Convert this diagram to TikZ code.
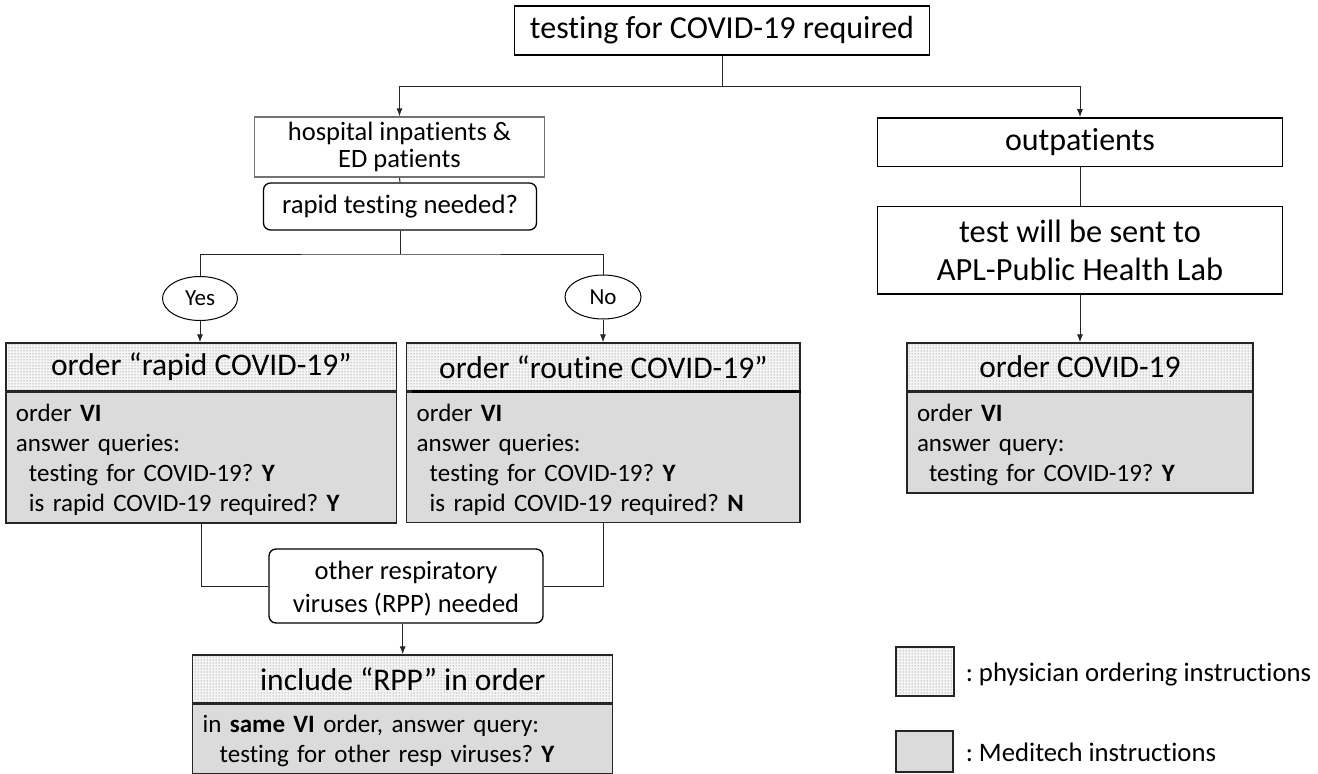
\documentclass[tikz,border=0pt]{standalone}
\usepackage{fontspec}
\setmainfont[RawFeature={-liga;-clig;-dlig}]{Carlito}
\usetikzlibrary{patterns,arrows.meta,shapes.geometric}
\newcommand\fsz[2]{\fontsize{#1pt}{#2pt}\selectfont}
\begin{document}
\frenchspacing
\begin{tikzpicture}[x=1pt,y=-1pt,
  box/.style={draw=black, line width=1.3pt, fill=white, inner sep=0pt, align=center},
  rbox/.style={box, rounded corners=7pt},
  ell/.style={draw=black, line width=1pt, ellipse, inner sep=0pt, font=\fsz{23}{26}},
  hdr/.style={draw=black!85, line width=1.2pt, preaction={fill=black!4}, pattern=dots, pattern color=black!60, inner sep=0pt, font=\fsz{31.5}{36}},
  bodyb/.style={draw=black!85, line width=1.2pt, fill=black!14, inner xsep=10pt, inner ysep=0pt, align=left, font=\fsz{25}{30}},
  conn/.style={draw=black!85, line width=1pt},
  arr/.style={conn, -{Latex[length=8pt,width=6pt]}},
  txt/.style={inner sep=0pt, font=\fsz{26.7}{30}}
]
\useasboundingbox[fill=white] (0,0) rectangle (1318,774);

% top
\node[box, minimum width=415pt, minimum height=49pt, font=\fsz{32}{38}] (top) at (722,30.5) {testing for COVID-19 required};
\coordinate (j0) at (722,86);

% left branch
\node[box, draw=black!55, minimum width=290pt, minimum height=60pt, font=\fsz{26.5}{27}] (hosp) at (399.5,147) {hospital inpatients \&\\ED patients};
\node[rbox, minimum width=273pt, minimum height=47pt, font=\fsz{26.7}{30}] (rapid) at (400,206.5) {rapid testing needed?};
\coordinate (j1) at (400,254);
\node[ell, minimum width=75pt, minimum height=44pt] (yes) at (200,298.5) {Yes};
\node[ell, minimum width=76pt, minimum height=44pt] (no) at (603,297) {No};

% rapid order
\node[hdr, minimum width=390.7pt, minimum height=48pt] (rh) at (201.35,367) {order “rapid COVID-19”};
\node[bodyb, text width=370.7pt, minimum height=130.7pt, anchor=north] (rb) at (rh.south) {\rule{0pt}{22pt}order \textbf{VI}\\answer queries:\\\hspace*{13pt}testing for COVID-19? \textbf{Y}\\\hspace*{13pt}is rapid COVID-19 required? \textbf{Y}};

% routine order
\node[hdr, minimum width=393.3pt, minimum height=48pt] (roh) at (603.35,367) {order “routine COVID-19”};
\node[bodyb, text width=373.3pt, minimum height=130pt, anchor=north] (rob) at (roh.south) {\rule{0pt}{22pt}order \textbf{VI}\\answer queries:\\\hspace*{13pt}testing for COVID-19? \textbf{Y}\\\hspace*{13pt}is rapid COVID-19 required? \textbf{N}};
\draw[line width=2.4pt] ([xshift=6pt]roh.south west) -- (roh.south east);

% RPP
\node[rbox, minimum width=274pt, minimum height=74pt, font=\fsz{26.5}{33}] (rpp) at (406,586) {\rule{0pt}{24pt}other respiratory\\viruses (RPP) needed};
\node[hdr, minimum width=420pt, minimum height=48pt] (ih) at (402.7,679) {include “RPP” in order};
\node[bodyb, text width=400pt, minimum height=69pt, anchor=north] (ib) at (ih.south) {\rule{0pt}{22pt}in \textbf{same VI} order, answer query:\\\hspace*{17pt}testing for other resp viruses? \textbf{Y}};

% right branch
\node[box, minimum width=405pt, minimum height=48.3pt, font=\fsz{32}{38}] (outp) at (1080,142) {outpatients};
\node[box, minimum width=405pt, minimum height=87.3pt, font=\fsz{32.4}{38.7}] (test) at (1080,250.35) {test will be sent to\\APL-Public Health Lab};
\node[hdr, minimum width=346pt, minimum height=48pt] (oh) at (1080,367) {order COVID-19};
\node[bodyb, text width=326pt, minimum height=100.7pt, anchor=north] (ob) at (oh.south) {\rule{0pt}{22pt}order \textbf{VI}\\answer query:\\\hspace*{12pt}testing for COVID-19? \textbf{Y}};

% legend
\node[hdr, minimum width=58pt, minimum height=49pt] (lg1) at (925,671.5) {};
\node[txt, anchor=west] (lg1t) at ([xshift=11pt,yshift=-3pt]lg1.east) {: physician ordering instructions};
\node[bodyb, inner xsep=0pt, minimum width=57pt, minimum height=41pt] (lg2) at (924.5,751.5) {};
\node[txt, anchor=west] (lg2t) at ([xshift=12pt,yshift=-1pt]lg2.east) {: Meditech instructions};

% connectors
\draw[conn] (top.south) -- (j0);
\draw[arr] (j0) -| (hosp.north);
\draw[arr] (j0) -| (outp.north);
\draw[conn] (hosp.south) -- (rapid.north);
\draw[conn] (rapid.south) -- (j1);
\draw[conn] (yes.north) |- (j1) -| (no.north);
\draw[arr] (yes.south) -- (yes.south |- rh.north);
\draw[arr] (no.south) -- (no.south |- roh.north);
\draw[conn] (rb.south) |- (rpp.west);
\draw[conn] (rob.south) |- (rpp.east);
\draw[arr] (rpp.south -| ih.north) -- (ih.north);
\draw[conn] (outp.south) -- (test.north);
\draw[arr] (test.south) -- (oh.north);
\end{tikzpicture}
\end{document}
